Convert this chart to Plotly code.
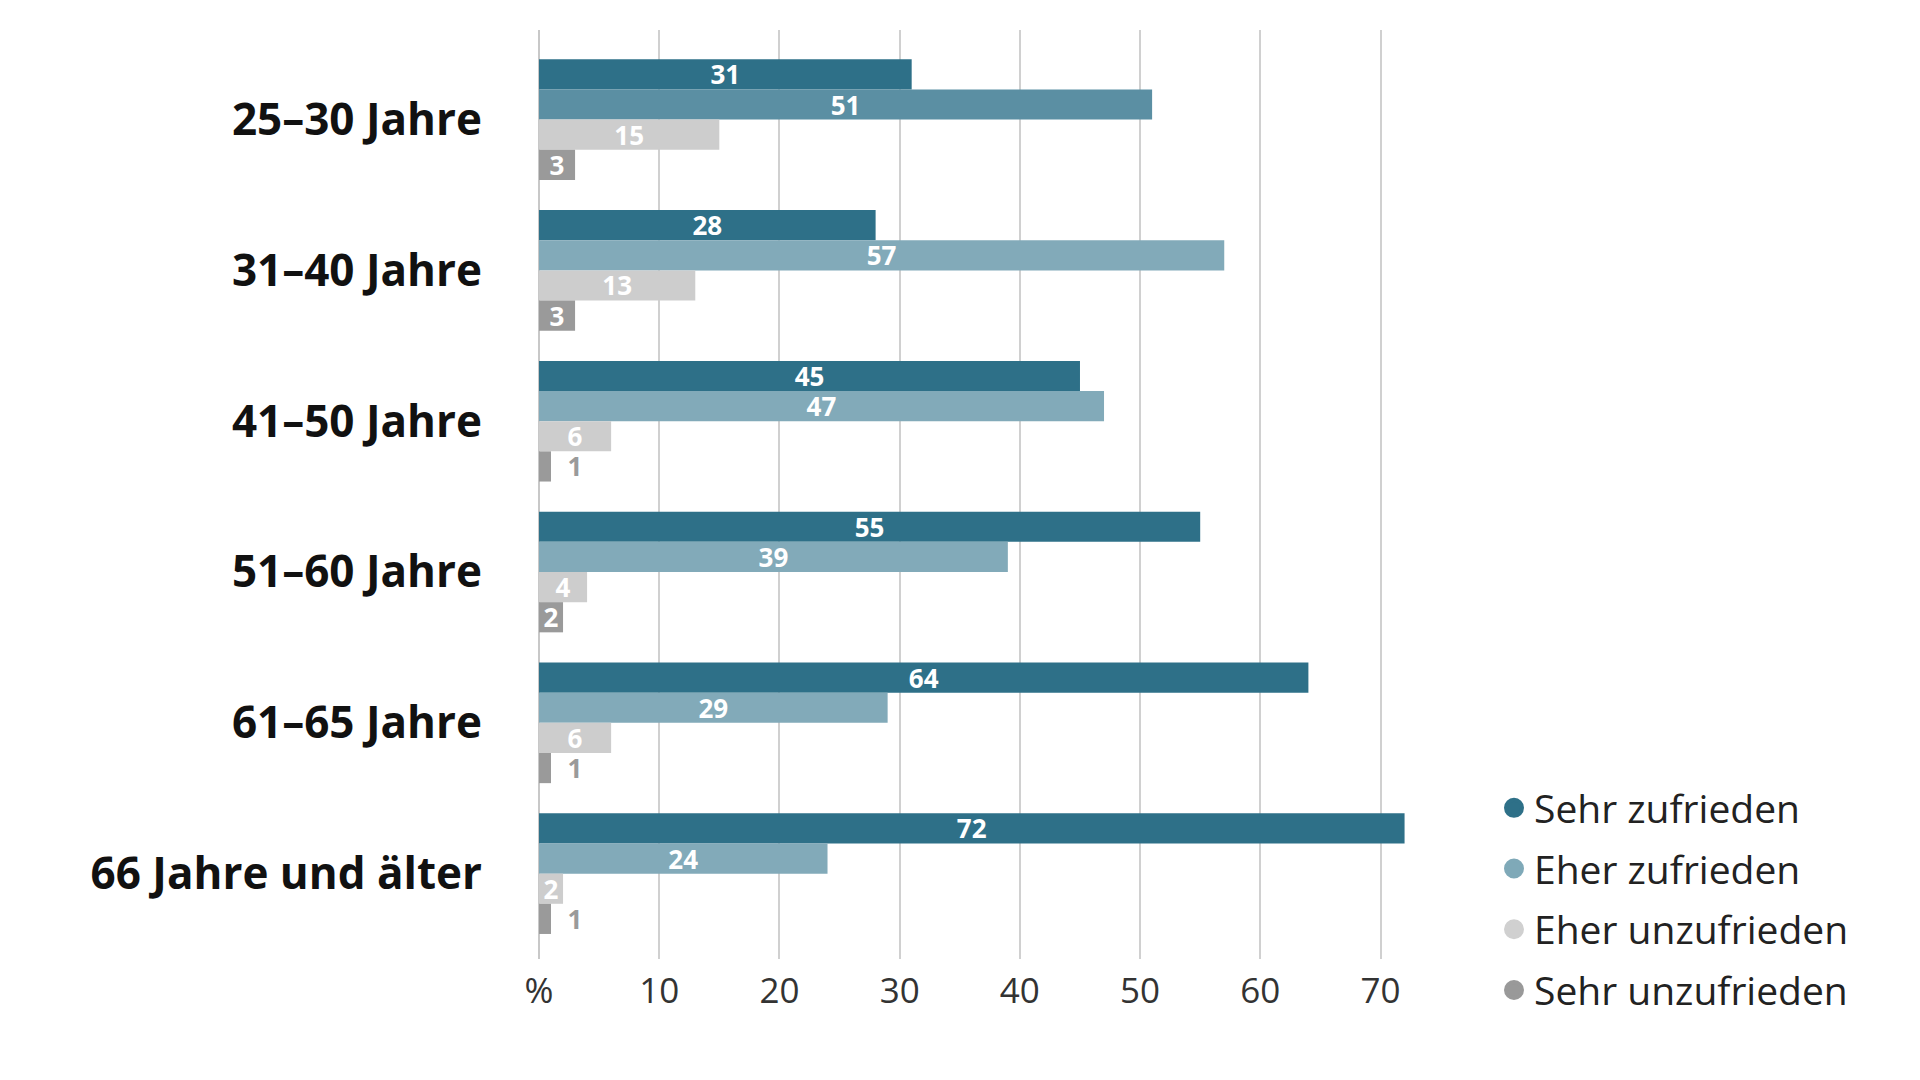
import plotly.graph_objects as go

categories = ["25–30 Jahre", "31–40 Jahre", "41–50 Jahre", "51–60 Jahre", "61–65 Jahre", "66 Jahre und älter"]
series_names = ["Sehr zufrieden", "Eher zufrieden", "Eher unzufrieden", "Sehr unzufrieden"]
sehr_zufrieden = [31, 28, 45, 55, 64, 72]
eher_zufrieden = [51, 57, 47, 39, 29, 24]
eher_unzufrieden = [15, 13, 6, 4, 6, 2]
sehr_unzufrieden = [3, 3, 1, 2, 1, 1]
tick_values = [0, 10, 20, 30, 40, 50, 60, 70]
tick_labels = ["%", "10", "20", "30", "40", "50", "60", "70"]

series_values = [sehr_zufrieden, eher_zufrieden, eher_unzufrieden, sehr_unzufrieden]
colors = ["#2e7088", "#82aab9", "#cdcdcd", "#9a9a9a"]
first_group_eher = "#5b8fa3"
legend_colors = ["#2e7088", "#7fa9b8", "#d0d0d0", "#999999"]

FONT = "Open Sans"
NBSP = "\u00a0"
fig = go.Figure()

for i, (name, vals) in enumerate(zip(series_names, series_values)):
    if i == 1:
        bar_colors = [first_group_eher] + [colors[1]] * (len(vals) - 1)
    else:
        bar_colors = [colors[i]] * len(vals)
    positions = ["outside" if v <= 1 else "inside" for v in vals]
    labels = [(NBSP * 2 + str(v)) if v <= 1 else str(v) for v in vals]
    fig.add_trace(go.Bar(
        name=name,
        y=categories,
        x=vals,
        orientation="h",
        marker=dict(color=bar_colors, line=dict(width=0)),
        text=labels,
        textposition=positions,
        textangle=0,
        insidetextanchor="middle",
        insidetextfont=dict(family=FONT, size=26, color="white", weight="bold"),
        outsidetextfont=dict(family=FONT, size=26, color="#9a9a9a", weight="bold"),
        constraintext="none",
        cliponaxis=False,
        showlegend=False,
        hoverinfo="skip",
    ))

for i, name in enumerate(series_names):
    fig.add_trace(go.Scatter(
        x=[None], y=[None], mode="markers", name=name,
        marker=dict(symbol="circle", size=16, color=legend_colors[i],
                    line=dict(width=4, color=legend_colors[i])),
        legendgroup=name, showlegend=True,
    ))

fig.update_layout(
    width=1920, height=1080,
    paper_bgcolor="white", plot_bgcolor="white",
    barmode="group", bargap=0.2, bargroupgap=0,
    margin=dict(l=531, r=509, t=22, b=129, autoexpand=False),
    font=dict(family=FONT, color="#222222"),
    legend=dict(
        x=1486 / 1920, xref="container", xanchor="left",
        y=1 - 768 / 1080, yref="container", yanchor="top",
        font=dict(family=FONT, size=39, color="#222222"),
        tracegroupgap=7, itemsizing="trace",
        bgcolor="rgba(0,0,0,0)",
    ),
    xaxis=dict(
        range=[0, 73.2], tickvals=tick_values, ticktext=tick_labels,
        showgrid=True, gridcolor="#d0d0d0", gridwidth=2,
        zeroline=True, zerolinecolor="#c8c8c8", zerolinewidth=2,
        showline=False, ticks="",
        tickfont=dict(family=FONT, size=35, color="#333333"),
        ticklabelstandoff=8,
    ),
    yaxis=dict(
        type="category", range=[5.566, -0.594],
        showgrid=False, zeroline=False, showline=False, ticks="",
        tickfont=dict(family=FONT, size=44, color="#111111", weight="bold"),
        ticklabelstandoff=56,
    ),
)

fig.write_html("out.html")
